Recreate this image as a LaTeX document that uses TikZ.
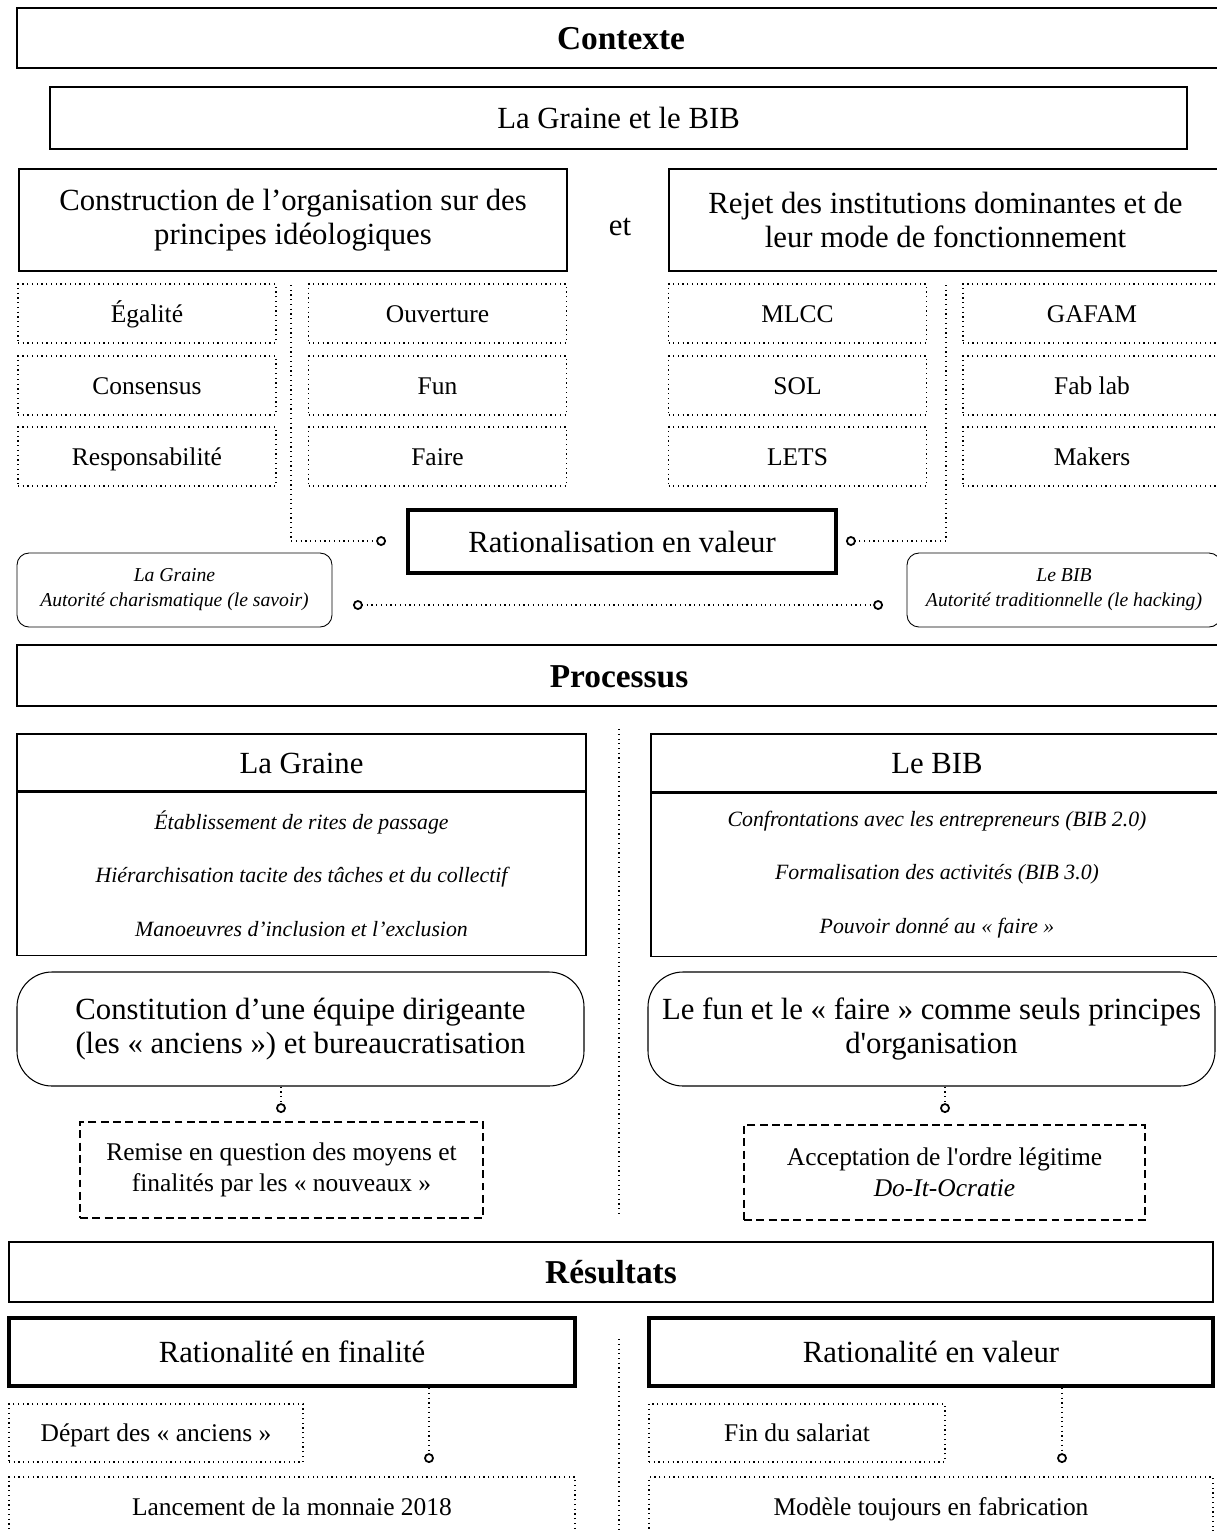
\documentclass[tikz,border=0pt]{standalone}
\usepackage{fontspec}
\setmainfont{Liberation Serif}
\usepackage{tikz}
\usetikzlibrary{arrows.meta, positioning}

\newcommand{\bigtxt}{\fontsize{17.5}{19.5}\selectfont}
\newcommand{\headtxt}{\fontsize{19}{22}\selectfont\bfseries}
\newcommand{\smalltxt}{\fontsize{14.5}{17.6}\selectfont}
\newcommand{\itemtxt}{\fontsize{12.4}{30.5}\selectfont\itshape}
\newcommand{\notetxt}{\fontsize{11.2}{14.2}\selectfont\itshape}

\tikzset{
  bigline/.style={text height=16.6pt, text depth=4.4pt},
  headbox/.style={draw, line width=1.1pt, inner sep=0pt, minimum height=1.2cm, font=\headtxt, text height=18pt, text depth=4.75pt},
  plainbox/.style={draw, line width=0.6pt, inner sep=0pt, align=center, font=\bigtxt},
  strongbox/.style={draw, line width=2.3pt, inner sep=0pt, align=center, font=\bigtxt, bigline},
  dotbox/.style={draw, dotted, line width=0.7pt, inner sep=0pt, align=center, font=\smalltxt, text height=13.8pt, text depth=3.6pt},
  dashbox/.style={draw, dash pattern=on 4.5pt off 2.5pt, line width=0.6pt, inner sep=0pt, align=center, font=\smalltxt},
  notebox/.style={draw, line width=0.5pt, rounded corners=0.24cm, inner sep=0pt, align=center, font=\notetxt},
  roundbox/.style={draw, line width=0.6pt, rounded corners=0.7cm, inner sep=0pt, align=center, font=\bigtxt},
  ring/.tip={Circle[open, length=5.6pt, line width=1pt]},
  link/.style={dotted, line width=0.7pt, -ring},
  sepline/.style={dotted, line width=0.7pt}
}

\begin{document}
\begin{tikzpicture}
  \useasboundingbox (0,0) rectangle (24.34,-30.62);

  % Contexte
  \node[headbox, minimum width=24.16cm] (ctx) at (12.42, -0.76) {Contexte};
  \node[plainbox, bigline, line width=0.85pt, minimum width=22.74cm, minimum height=1.24cm] (gbib) at (12.37, -2.36) {La Graine et le BIB};

  \node[plainbox, minimum width=10.96cm, minimum height=2.04cm] (constr) at (5.86, -4.40) {Construction de l’organisation sur des\\principes idéologiques};
  \node[font=\bigtxt] (et) at (12.40, -4.54) {et};
  \node[plainbox, minimum width=11.06cm, minimum height=2.04cm] (rejet) at (18.91, -4.40) {Rejet des institutions dominantes et de\\leur mode de fonctionnement};

  % principes
  \node[dotbox, minimum width=5.16cm, minimum height=1.18cm] (egal) at (2.94, -6.27) {Égalité};
  \node[dotbox, minimum width=5.16cm, minimum height=1.18cm] (ouv) at (8.75, -6.27) {Ouverture};
  \node[dotbox, minimum width=5.16cm, minimum height=1.18cm] (cons) at (2.94, -7.71) {Consensus};
  \node[dotbox, minimum width=5.16cm, minimum height=1.18cm] (fun) at (8.75, -7.71) {Fun};
  \node[dotbox, minimum width=5.16cm, minimum height=1.18cm] (resp) at (2.94, -9.13) {Responsabilité};
  \node[dotbox, minimum width=5.16cm, minimum height=1.18cm] (faire) at (8.75, -9.13) {Faire};

  % institutions
  \node[dotbox, minimum width=5.16cm, minimum height=1.18cm] (mlcc) at (15.95, -6.27) {MLCC};
  \node[dotbox, minimum width=5.16cm, minimum height=1.18cm] (gafam) at (21.84, -6.27) {GAFAM};
  \node[dotbox, minimum width=5.16cm, minimum height=1.18cm] (sol) at (15.95, -7.71) {SOL};
  \node[dotbox, minimum width=5.16cm, minimum height=1.18cm] (fablab) at (21.84, -7.71) {Fab lab};
  \node[dotbox, minimum width=5.16cm, minimum height=1.18cm] (lets) at (15.95, -9.13) {LETS};
  \node[dotbox, minimum width=5.16cm, minimum height=1.18cm] (makers) at (21.84, -9.13) {Makers};

  % Rationalisation
  \node[strongbox, minimum width=8.56cm, minimum height=1.26cm] (ratval) at (12.44, -10.83) {Rationalisation en valeur};
  \coordinate (ltop) at (5.82, -5.70);
  \coordinate (lend) at (7.72, -10.82);
  \coordinate (rtop) at (18.92, -5.70);
  \coordinate (rend) at (16.92, -10.82);
  \draw[link] (ltop) |- (lend);
  \draw[link] (rtop) |- (rend);

  \node[notebox, minimum width=6.30cm, minimum height=1.48cm] (grauth) at (3.49, -11.80) {La Graine\\Autorité charismatique (le savoir)};
  \node[notebox, minimum width=6.28cm, minimum height=1.48cm] (bibauth) at (21.28, -11.80) {Le BIB\\Autorité traditionnelle (le hacking)};
  \coordinate (authl) at (7.06, -12.10);
  \coordinate (authr) at (17.66, -12.10);
  \draw[link, ring-ring] (authl) -- (authr);

  % Processus
  \node[headbox, minimum width=24.08cm, minimum height=1.22cm] (proc) at (12.38, -13.51) {Processus};

  \node[plainbox, bigline, minimum width=11.38cm, minimum height=1.14cm] (grtit) at (6.03, -15.25) {La Graine};
  \node[plainbox, font=\itemtxt, minimum width=11.38cm, minimum height=3.26cm, below=0pt of grtit] (grbody) {Établissement de rites de passage\\Hiérarchisation tacite des tâches et du collectif\\Manoeuvres d’inclusion et l’exclusion};
  \node[plainbox, bigline, minimum width=11.44cm, minimum height=1.16cm] (bibtit) at (18.74, -15.26) {Le BIB};
  \node[plainbox, font=\itemtxt, minimum width=11.44cm, minimum height=3.26cm, below=0pt of bibtit] (bibbody) {Confrontations avec les entrepreneurs (BIB 2.0)\\Formalisation des activités (BIB 3.0)\\Pouvoir donné au «~faire~»};

  \coordinate (sep1a) at (12.38, -14.58);
  \coordinate (sep1b) at (12.38, -24.34);
  \draw[sepline] (sep1a) -- (sep1b);

  \node[roundbox, minimum width=11.34cm, minimum height=2.28cm] (ldrv) at (6.01, -20.58) {Constitution d’une équipe dirigeante\\(les «~anciens~») et bureaucratisation};
  \node[roundbox, minimum width=11.34cm, minimum height=2.28cm] (rdrv) at (18.63, -20.58) {Le fun et le «~faire~» comme seuls principes\\d\textquotesingle organisation};
  \coordinate (cl1) at (5.62, -22.26);
  \coordinate (cr1) at (18.90, -22.26);
  \draw[link] (ldrv.south -| cl1) -- (cl1);
  \draw[link] (rdrv.south -| cr1) -- (cr1);

  \node[dashbox, minimum width=8.06cm, minimum height=1.92cm] (ldash) at (5.63, -23.40) {Remise en question des moyens et\\finalités par les «~nouveaux~»};
  \node[dashbox, minimum width=8.02cm, minimum height=1.90cm] (rdash) at (18.89, -23.45) {Acceptation de l\textquotesingle ordre légitime\\\textit{Do-It-Ocratie}};

  % Resultats
  \node[headbox, minimum width=24.08cm] (res) at (12.22, -25.44) {Résultats};

  \node[strongbox, minimum width=11.32cm, minimum height=1.36cm] (rfin) at (5.84, -27.04) {Rationalité en finalité};
  \node[strongbox, minimum width=11.28cm, minimum height=1.36cm] (rval) at (18.62, -27.04) {Rationalité en valeur};

  \coordinate (sep2a) at (12.38, -26.78);
  \coordinate (sep2b) at (12.38, -30.80);
  \draw[sepline] (sep2a) -- (sep2b);

  \coordinate (cl2) at (8.58, -29.26);
  \coordinate (cr2) at (21.24, -29.26);
  \draw[link] (rfin.south -| cl2) -- (cl2);
  \draw[link] (rval.south -| cr2) -- (cr2);

  \node[dotbox, minimum width=5.88cm, minimum height=1.16cm] (depart) at (3.12, -28.66) {Départ des «~anciens~»};
  \node[dotbox, minimum width=5.92cm, minimum height=1.16cm] (salar) at (15.94, -28.66) {Fin du salariat};
  \node[dotbox, minimum width=11.32cm, minimum height=1.20cm] (lanc) at (5.84, -30.14) {Lancement de la monnaie 2018};
  \node[dotbox, minimum width=11.28cm, minimum height=1.20cm] (model) at (18.62, -30.14) {Modèle toujours en fabrication};
\end{tikzpicture}
\end{document}
